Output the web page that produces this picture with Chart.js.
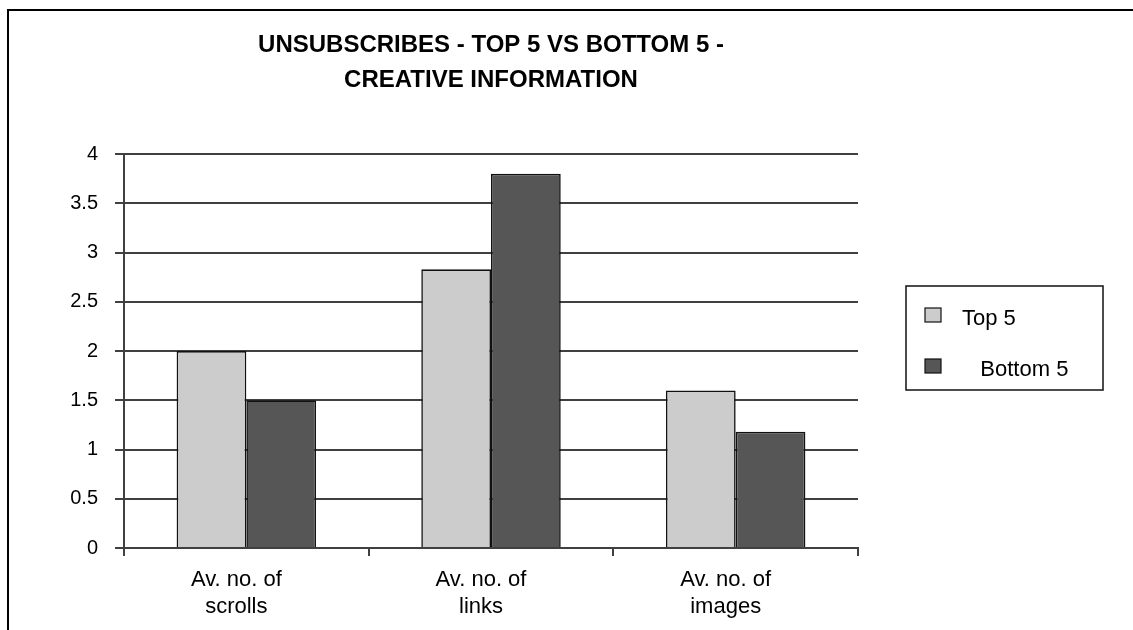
<!DOCTYPE html>
<html lang="en">
<head>
<meta charset="UTF-8">
<title>Unsubscribes - Top 5 vs Bottom 5</title>
<script src="https://cdn.jsdelivr.net/npm/chart.js@4.4.1/dist/chart.umd.js"></script>
<style>
  html, body { margin: 0; padding: 0; background: #fff; overflow: hidden; }
  #frame { position: absolute; left: 7px; top: 9px; width: 1200px; height: 700px; border: 2px solid #000; }
  #wrap { position: absolute; left: 0; top: 0; width: 1133px; height: 630px; }
</style>
</head>
<body>
<div id="frame"></div>
<div id="wrap"><canvas id="chart"></canvas></div>
<script>
// chart data
const categories = [['Av. no. of', 'scrolls'], ['Av. no. of', 'links'], ['Av. no. of', 'images']];
const top5 = [2.0, 2.83, 1.6];
const bottom5 = [1.5, 3.8, 1.18];
const seriesNames = ['Top 5', '   Bottom 5'];
const yTicks = [0, 0.5, 1, 1.5, 2, 2.5, 3, 3.5, 4];
const titleLines = ['UNSUBSCRIBES - TOP 5 VS BOTTOM 5 -', 'CREATIVE INFORMATION'];

const FONT = '"Liberation Sans", Arial, sans-serif';
const LINE = '#404040';

// boxed legend drawn to the right of the plot
const boxedLegend = {
  id: 'boxedLegend',
  afterDraw(chart) {
    const ctx = chart.ctx;
    const x = 906, y = 286, w = 197, h = 104;
    ctx.save();
    ctx.strokeStyle = '#111';
    ctx.lineWidth = 1.5;
    ctx.strokeRect(x, y, w, h);
    ctx.font = '22px ' + FONT;
    ctx.textBaseline = 'middle';
    chart.data.datasets.forEach((ds, i) => {
      const cy = y + 29 + i * 51;
      ctx.fillStyle = ds.backgroundColor;
      ctx.fillRect(x + 19, cy - 7, 16, 14);
      ctx.strokeStyle = '#111';
      ctx.lineWidth = 1.2;
      ctx.strokeRect(x + 19, cy - 7, 16, 14);
      ctx.fillStyle = '#000';
      ctx.fillText(ds.label, x + 56, cy + 4);
    });
    ctx.restore();
  }
};

new Chart(document.getElementById('chart'), {
  type: 'bar',
  data: {
    labels: categories,
    datasets: [
      { label: seriesNames[0], data: top5, backgroundColor: '#cccccc' },
      { label: seriesNames[1], data: bottom5, backgroundColor: '#565656' }
    ]
  },
  options: {
    responsive: true,
    maintainAspectRatio: false,
    animation: false,
    devicePixelRatio: 1,
    layout: { padding: { left: 0, right: 275, top: 0, bottom: 0 } },
    datasets: {
      bar: {
        categoryPercentage: 0.57,
        barPercentage: 1.0,
        borderColor: '#111',
        borderWidth: 1.6
      }
    },
    plugins: {
      legend: { display: false },
      tooltip: { enabled: false },
      title: {
        display: true,
        fullSize: false,
        text: titleLines,
        color: '#000',
        font: { family: FONT, size: 24, weight: 'bold', lineHeight: 1.46 },
        padding: { top: 28, bottom: 56 }
      }
    },
    scales: {
      x: {
        grid: { offset: true, drawOnChartArea: false, drawTicks: true, tickLength: 8, color: LINE, lineWidth: 2 },
        border: { display: true, color: LINE, width: 2 },
        ticks: { color: '#000', padding: 11, labelOffset: -10, maxRotation: 0, font: { family: FONT, size: 22, lineHeight: 1.2 } },
        afterFit: s => { s.height = 82; }
      },
      y: {
        min: 0,
        max: 4,
        afterBuildTicks: s => { s.ticks = yTicks.map(v => ({ value: v })); },
        grid: { color: LINE, lineWidth: 2, drawTicks: true, tickLength: 9 },
        border: { display: true, color: LINE, width: 2 },
        ticks: { color: '#000', padding: 17, callback: v => String(v), font: { family: FONT, size: 20 } },
        afterFit: s => { s.width = 124; }
      }
    }
  },
  plugins: [boxedLegend]
});
</script>
</body>
</html>
